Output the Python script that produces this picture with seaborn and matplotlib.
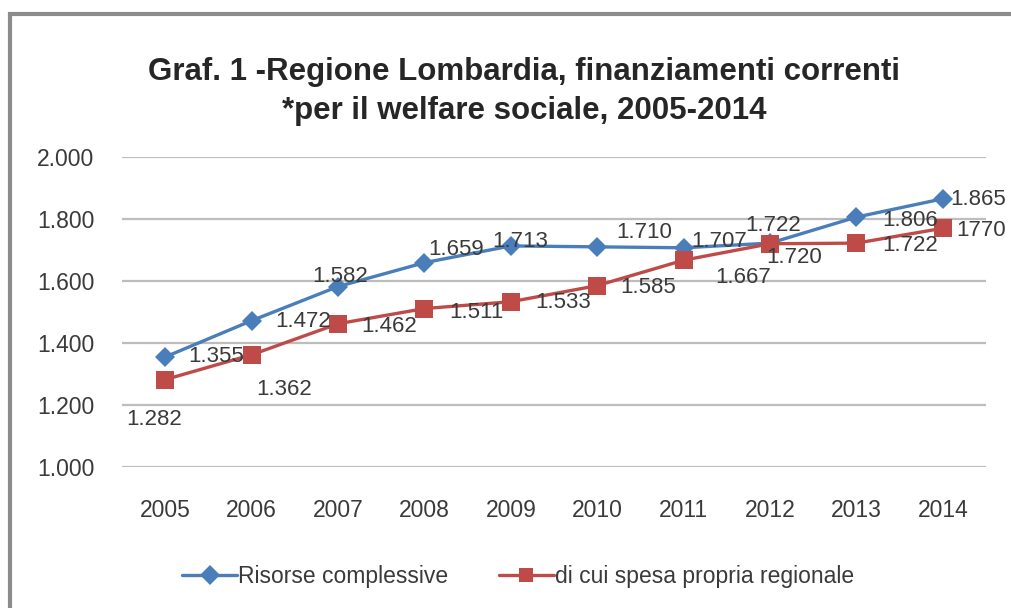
import pandas as pd
import matplotlib.pyplot as plt
import seaborn as sns
from matplotlib.patches import Rectangle
from matplotlib.ticker import FuncFormatter

# ====== DATA ======
years = [2005, 2006, 2007, 2008, 2009, 2010, 2011, 2012, 2013, 2014]
risorse = [1355, 1472, 1582, 1659, 1713, 1710, 1707, 1722, 1806, 1865]
spesa = [1282, 1362, 1462, 1511, 1533, 1585, 1667, 1720, 1722, 1770]
risorse_labels = ["1.355", "1.472", "1.582", "1.659", "1.713",
                  "1.710", "1.707", "1.722", "1.806", "1.865"]
spesa_labels = ["1.282", "1.362", "1.462", "1.511", "1.533",
                "1.585", "1.667", "1.720", "1.722", "1770"]
series_names = ["Risorse complessive", "di cui spesa propria regionale"]

# label offsets in pixels (dx, dy), as placed in the original
risorse_off = [(51, 0), (51, -1), (2, 10), (32, 13), (9, 4),
               (47, 14), (35, 6), (3, 18), (54, -3), (35, -1)]
spesa_off = [(-11, -40), (32, -35), (51, -3), (52, -4), (52, -1),
             (51, -2), (59, -17), (24, -14), (54, -2), (38, -2)]

df = pd.DataFrame({
    "anno": years * 2,
    "valore": risorse + spesa,
    "serie": [series_names[0]] * len(years) + [series_names[1]] * len(years),
})

BLUE = "#4A7EBB"
RED = "#BE4B48"
TXT = "#3A3A3A"

sns.set_theme(style="white")
plt.rcParams["font.family"] = ["Liberation Sans", "DejaVu Sans"]

fig = plt.figure(figsize=(10.12, 6.08), dpi=100)
ax = fig.add_axes([0.1206, 0.2319, 0.8538, 0.51])

sns.lineplot(data=df, x="anno", y="valore", hue="serie", style="serie",
             palette=[BLUE, RED], markers=["D", "s"], dashes=False,
             linewidth=2.4, markersize=10.5, markeredgewidth=0, ax=ax,
             legend=True)
# bigger squares for the red series
ax.lines[1].set_markersize(12.5)

ax.set_xlim(2004.5, 2014.5)
ax.set_ylim(1000, 2000)
ax.set_yticks(range(1000, 2001, 200))
ax.set_xticks(years)
ax.yaxis.set_major_formatter(FuncFormatter(lambda v, p: f"{int(v):,}".replace(",", ".")))
ax.grid(axis="y", color="#BDBDBD", linewidth=1.6)
ax.set_axisbelow(True)
for s in ax.spines.values():
    s.set_visible(False)
ax.set_xlabel("")
ax.set_ylabel("")
ax.tick_params(axis="x", labelsize=16.5, colors=TXT, pad=17)
ax.tick_params(axis="y", labelsize=16.5, colors=TXT, pad=14)

# data labels
for x, y, t, o in zip(years, risorse, risorse_labels, risorse_off):
    ax.annotate(t, (x, y), xytext=o, textcoords="offset pixels",
                ha="center", va="center", fontsize=16, color=TXT)
for x, y, t, o in zip(years, spesa, spesa_labels, spesa_off):
    ax.annotate(t, (x, y), xytext=o, textcoords="offset pixels",
                ha="center", va="center", fontsize=16, color=TXT)

# legend at the bottom
handles, labels = ax.get_legend_handles_labels()
ax.legend_.remove()
fig.legend(handles, labels, loc="center", bbox_to_anchor=(0.512, 0.051),
           ncol=2, frameon=False, fontsize=16.5, handlelength=2.4,
           handletextpad=0.05, columnspacing=2.2,
           labelcolor=TXT)

# title
fig.text(0.518, 0.85, "Graf. 1 -Regione Lombardia, finanziamenti correnti\n*per il welfare sociale, 2005-2014",
         ha="center", va="center", fontsize=22.5, fontweight="bold",
         color="#262626", linespacing=1.4)

# outer chart frame
fig.patches.append(Rectangle((10 / 1012, -0.05), 1.1, 1 - 14 / 608 + 0.05,
                             transform=fig.transFigure, fill=False,
                             edgecolor="#8C8C8C", linewidth=3))

fig.savefig("out.png", dpi=100)
